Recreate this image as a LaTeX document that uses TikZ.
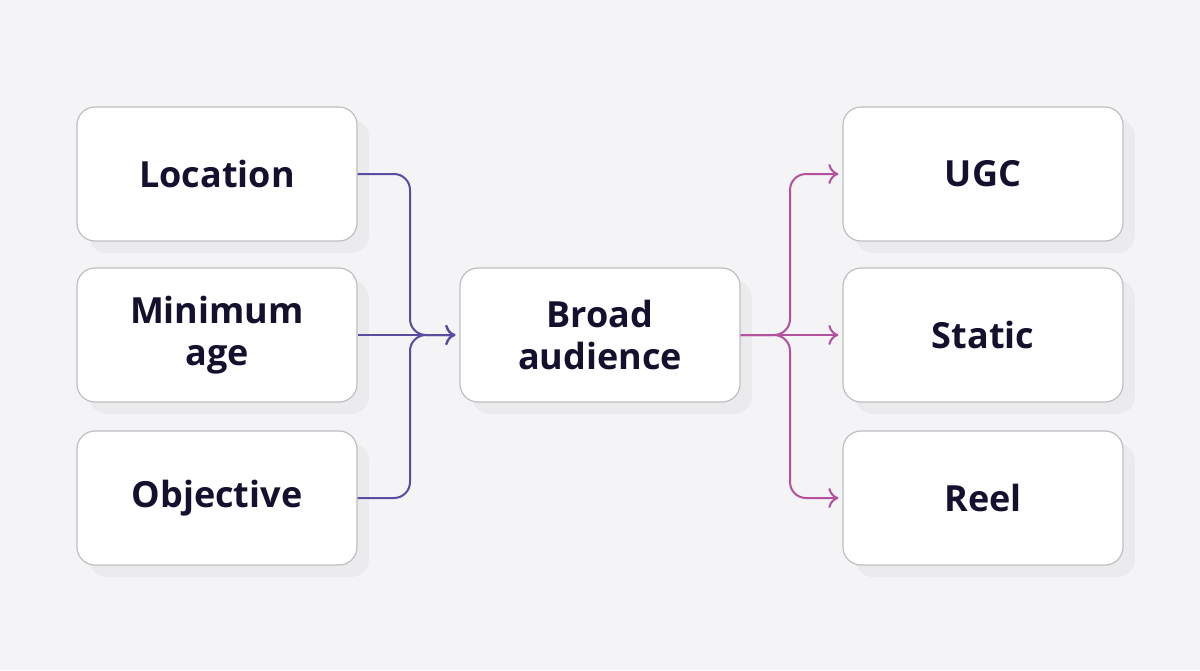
\documentclass[tikz,border=0pt]{standalone}
\usepackage{fontspec}
\setmainfont{Open Sans}
\usetikzlibrary{shadows,arrows.meta}
\definecolor{bgc}{HTML}{F4F3F5}
\definecolor{inkc}{HTML}{14112E}
\definecolor{leftc}{HTML}{5A4CA0}
\definecolor{rightc}{HTML}{B2519C}
\tikzset{
  box/.style={draw=black!25, line width=0.6pt, fill=white, rounded corners=9pt,
    minimum width=140pt, minimum height=67pt, align=center, text=inkc,
    font=\fontsize{18}{21}\selectfont\bfseries,
    drop shadow={shadow xshift=6pt, shadow yshift=-6pt, fill=black, opacity=0.035}},
  inarrow/.style={draw=leftc, line width=1pt, rounded corners=8pt, shorten >=2pt, -{To[length=5pt,width=10pt]}},
  outarrow/.style={draw=rightc, line width=1pt, rounded corners=8pt, shorten >=2pt, -{To[length=5pt,width=10pt]}}
}
\begin{document}
\begin{tikzpicture}[x=0.5pt,y=-0.5pt]
  \fill[bgc] (0,0) rectangle (1200,670);
  \useasboundingbox (0,0) rectangle (1200,670);
  % inputs
  \node[box] (loc) at (217,174) {Location};
  \node[box] (age) at (217,335) {Minimum\\age};
  \node[box] (obj) at (217,498) {Objective};
  % centre
  \node[box] (broad) at (600,335) {Broad\\audience};
  % outputs
  \node[box] (ugc) at (983,174) {UGC};
  \node[box] (stat) at (983,335) {Static};
  \node[box] (reel) at (983,498) {Reel};
  \coordinate (lj) at (410,335);
  \coordinate (rj) at (790,335);
  % left connectors
  \draw[inarrow] (loc.east) -- (lj |- loc.east) -- (lj) -- (broad.west);
  \draw[inarrow] (obj.east) -- (lj |- obj.east) -- (lj) -- (broad.west);
  \draw[inarrow] (age.east) -- (broad.west);
  % right connectors
  \draw[outarrow] (broad.east) -- (rj) -- (rj |- ugc.west) -- (ugc.west);
  \draw[outarrow] (broad.east) -- (rj) -- (rj |- reel.west) -- (reel.west);
  \draw[outarrow] (broad.east) -- (stat.west);
\end{tikzpicture}
\end{document}
